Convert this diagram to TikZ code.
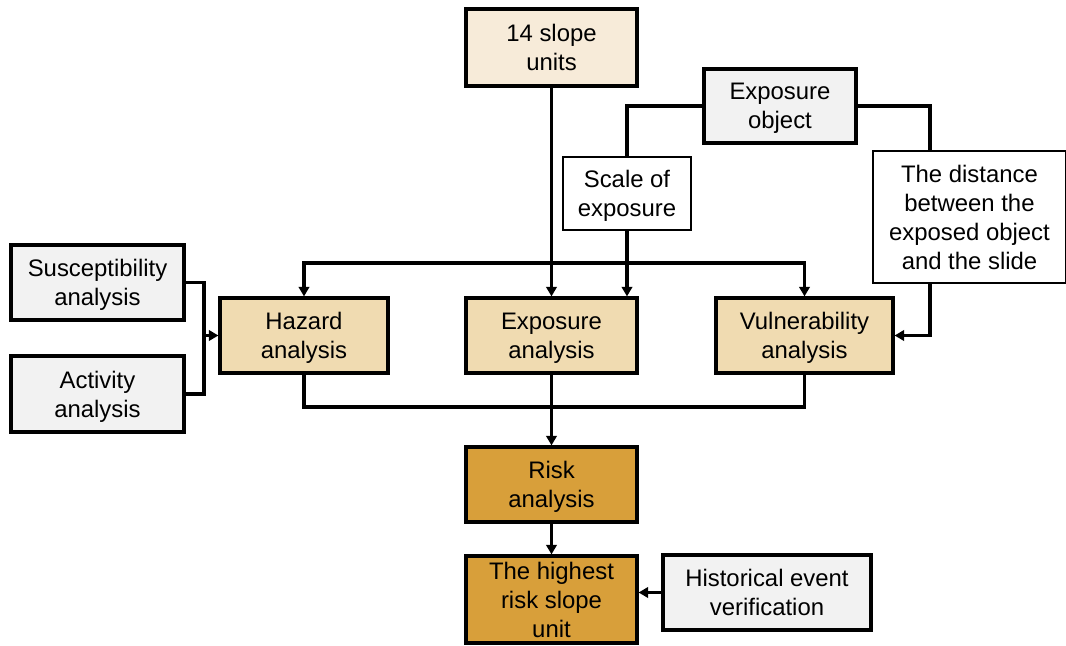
\documentclass[tikz,border=0pt]{standalone}
\usepackage{fontspec}
\setmainfont{Liberation Sans}
\usepackage{tikz}
\usetikzlibrary{arrows.meta}
\usepackage{xcolor}
\definecolor{slopefill}{HTML}{F7EBD9}
\definecolor{stepfill}{HTML}{F0DBB1}
\definecolor{riskfill}{HTML}{D89F3A}
\definecolor{inputfill}{HTML}{F2F2F2}

\begin{document}
\begin{tikzpicture}[x=0.02cm,y=-0.02cm]
		
		\tikzset{block/.style = {shape=rectangle,draw,line width=1.8pt,align=center,inner sep=0pt,
				text depth=0pt,font=\fontsize{13.6}{16.5}\selectfont}}
		\tikzset{note/.style = {block,fill=white,line width=0.7pt}}
		\tikzset{edge/.style = {-{Triangle[length=5.5pt,width=6pt]},line width=1.8pt}}
		\tikzset{link/.style = {-,line width=1.8pt}}
		\useasboundingbox (0,0) rectangle (1066,646);
		\node[block,fill=slopefill,minimum width=3.42cm,minimum height=1.54cm] (S) at (551.5,47.5) {14 slope\\units};
		\node[block,fill=inputfill,minimum width=3.04cm,minimum height=1.48cm] (O) at (780,106) {Exposure\\object};
		\node[note,minimum width=2.56cm,minimum height=1.46cm] (C) at (627,193.5) {Scale of\\exposure};
		\node[note,minimum width=3.86cm,minimum height=2.64cm] (D) at (969.5,217) {The distance\\between the\\exposed object\\and the slide};
		\node[block,fill=inputfill,minimum width=3.46cm,minimum height=1.5cm] (SA) at (97.5,282.5) {Susceptibility\\analysis};
		\node[block,fill=inputfill,minimum width=3.46cm,minimum height=1.52cm] (AA) at (97.5,394) {Activity\\analysis};
		\node[block,fill=stepfill,minimum width=3.36cm,minimum height=1.5cm] (H) at (304,335.5) {Hazard\\analysis};
		\node[block,fill=stepfill,minimum width=3.42cm,minimum height=1.5cm] (E) at (551.5,335.5) {Exposure\\analysis};
		\node[block,fill=stepfill,minimum width=3.54cm,minimum height=1.5cm] (V) at (804.5,335.5) {Vulnerability\\analysis};
		\node[block,fill=riskfill,minimum width=3.42cm,minimum height=1.5cm] (R) at (551.5,484.5) {Risk\\analysis};
		\node[block,fill=riskfill,minimum width=3.42cm,minimum height=1.74cm] (U) at (551.5,599.5) {The highest\\risk slope\\unit};
		\node[block,fill=inputfill,minimum width=4.16cm,minimum height=1.5cm] (HE) at (767,592.5) {Historical event\\verification};
		\coordinate (split) at (551.5,263);
		\coordinate (merge) at (204,335.5);
		\coordinate (join) at (551.5,407);
		\coordinate (dtop) at (930,151);
		\coordinate (dbot) at (930,283);
		%edges
		\draw[edge] (S) to (E);
		\draw[edge,{Triangle[length=5.5pt,width=6pt]}-{Triangle[length=5.5pt,width=6pt]}] (H.north) |- (split) -| (V.north);
		\draw[link] (O.west) -| (C.north);
		\draw[edge] (C.south) to (C.south |- E.north);
		\draw[link] (O.east) -| (dtop);
		\draw[edge] (dbot) |- (V.east);
		\draw[link] (SA.east) -| (merge);
		\draw[link] (AA.east) -| (merge);
		\draw[edge] (merge) to (H.west);
		\draw[link] (H.south) |- (join) -| (V.south);
		\draw[edge] (E) to (R);
		\draw[edge] (R) to (U);
		\draw[edge] (HE.west) to (HE.west -| U.east);
		\end{tikzpicture}
\end{document}
